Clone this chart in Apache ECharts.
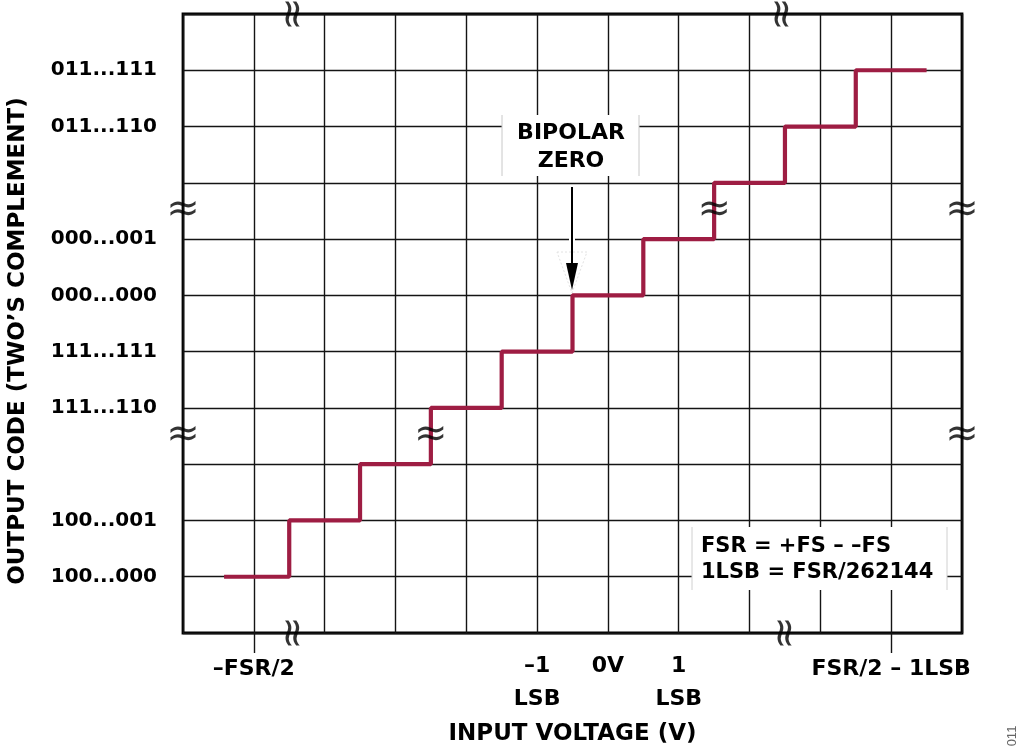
<!DOCTYPE html>
<html>
<head>
<meta charset="utf-8">
<script src="https://cdn.jsdelivr.net/npm/echarts@6/dist/echarts.min.js"></script>
<style>
html,body{margin:0;padding:0;background:#fff;}
#chart{width:1024px;height:756px;}
</style>
</head>
<body>
<div id="chart"></div>
<script>
// ---- data ----
const stepX    = [0.58, 1, 2, 3, 4, 5, 6, 7, 8, 9, 10, 10.5];
const stepCode = [1, 1, 2, 3, 4, 5, 6, 7, 8, 9, 10, 10];
const yTickValues = [1, 2, 4, 5, 6, 7, 9, 10];
const yTickLabels = ['100...000', '100...001', '111...110', '111...111', '000...000', '000...001', '011...110', '011...111'];
const xTickValues = [1, 5, 6, 7, 10];
const xTickLabels = ['–FSR/2', '–1\nLSB', '0V', '1\nLSB', 'FSR/2 – 1LSB'];
const xMarkValues = [1, 10];
const breakOnXAxes = [[1.57, 11], [8.48, 11], [1.57, 0], [8.52, 0]];
const breakOnYAxes = [[0, 7.5], [0, 3.5], [11, 7.5], [11, 3.5], [7.5, 7.5], [3.5, 3.5]];

const FONT = '"DejaVu Sans", "Liberation Sans", Arial, sans-serif';
const LINECOLOR = '#9e1d43';
const GRIDCOLOR = '#141414';

const chart = echarts.init(document.getElementById('chart'));
const breakLabel = { show: true, position: 'inside', formatter: '≈', fontFamily: 'DejaVu Sans', fontSize: 40, fontWeight: 'normal', color: '#000' };
const option = {
  animation: false,
  backgroundColor: '#fff',
  grid: { left: 183, right: 62, top: 14, bottom: 123, show: true, borderColor: '#000', borderWidth: 2.8, backgroundColor: 'transparent' },
  xAxis: [
    {
      type: 'value', min: 0, max: 11, interval: 1,
      name: 'INPUT VOLTAGE (V)', nameLocation: 'middle', nameGap: 90,
      nameTextStyle: { fontFamily: FONT, fontSize: 23, fontWeight: 'bold', color: '#000' },
      axisLine: { show: false },
      axisTick: { show: false },
      splitLine: { show: true, lineStyle: { color: GRIDCOLOR, width: 1.4 } },
      axisLabel: {
        show: true, customValues: xTickValues, margin: 17,
        fontFamily: FONT, fontSize: 22, fontWeight: 'bold', color: '#000', lineHeight: 33,
        formatter: function (v) {
          const i = xTickValues.indexOf(v);
          if (i < 0) return '';
          const t = xTickLabels[i];
          return t.indexOf('\n') >= 0 || t === '0V' ? t : '{s|' + t + '}';
        },
        rich: { s: { fontFamily: FONT, fontSize: 22, fontWeight: 'bold', color: '#000', lineHeight: 33, padding: [6, 0, 0, 0] } }
      }
    },
    {
      type: 'value', min: 0, max: 11, position: 'bottom',
      axisLine: { show: false },
      splitLine: { show: false },
      axisLabel: { show: false },
      axisTick: { show: true, customValues: xMarkValues, length: 20, lineStyle: { color: GRIDCOLOR, width: 1.4 } }
    }
  ],
  yAxis: {
    type: 'value', min: 0, max: 11, interval: 1,
    axisLine: { show: false },
    axisTick: { show: false },
    splitLine: { show: true, lineStyle: { color: GRIDCOLOR, width: 1.4 } },
    axisLabel: {
      show: true, customValues: yTickValues, margin: 26,
      fontFamily: FONT, fontSize: 20, fontWeight: 'bold', color: '#000',
      formatter: function (v) {
        const i = yTickValues.indexOf(v);
        return i < 0 ? '' : yTickLabels[i];
      }
    }
  },
  series: [
    {
      type: 'line', step: 'middle', showSymbol: false, symbol: 'none',
      data: stepX.map((x, i) => [x, stepCode[i]]),
      lineStyle: { color: LINECOLOR, width: 4.2 }, z: 3
    },
    {
      type: 'scatter', symbolSize: 1, itemStyle: { color: 'rgba(0,0,0,0)' }, silent: true, z: 5,
      data: breakOnXAxes,
      label: Object.assign({}, breakLabel, { rotate: 90 })
    },
    {
      type: 'scatter', symbolSize: 1, itemStyle: { color: 'rgba(0,0,0,0)' }, silent: true, z: 5,
      data: breakOnYAxes,
      label: breakLabel
    }
  ],
  graphic: [
    // y axis title
    { type: 'text', z: 12, x: 18, y: 341, rotation: Math.PI / 2, style: { text: 'OUTPUT CODE (TWO’S COMPLEMENT)', fontFamily: FONT, fontSize: 23, fontWeight: 'bold', fill: '#000', align: 'center', verticalAlign: 'middle' } },
    // BIPOLAR ZERO box
    { type: 'rect', z: 10, shape: { x: 502, y: 115, width: 137, height: 61 }, style: { fill: '#fff' } },
    { type: 'line', z: 11, shape: { x1: 502, y1: 115, x2: 502, y2: 176 }, style: { stroke: '#c8c8c8', lineWidth: 1 } },
    { type: 'line', z: 11, shape: { x1: 639, y1: 115, x2: 639, y2: 176 }, style: { stroke: '#c8c8c8', lineWidth: 1 } },
    { type: 'text', z: 12, x: 571, y: 133, style: { text: 'BIPOLAR', fontFamily: FONT, fontSize: 22, fontWeight: 'bold', fill: '#000', align: 'center', verticalAlign: 'middle' } },
    { type: 'text', z: 12, x: 571, y: 161, style: { text: 'ZERO', fontFamily: FONT, fontSize: 22, fontWeight: 'bold', fill: '#000', align: 'center', verticalAlign: 'middle' } },
    // arrow
    { type: 'line', z: 10, shape: { x1: 572, y1: 186, x2: 572, y2: 262 }, style: { stroke: '#fff', lineWidth: 6 } },
    { type: 'polygon', z: 10, shape: { points: [[557, 252], [587, 252], [572, 293]] }, style: { fill: '#fff', stroke: '#e2e2e2', lineWidth: 1, lineDash: [2, 2] } },
    { type: 'line', z: 11, shape: { x1: 572, y1: 187, x2: 572, y2: 266 }, style: { stroke: '#000', lineWidth: 2 } },
    { type: 'polygon', z: 11, shape: { points: [[566, 263], [578, 263], [572, 290]] }, style: { fill: '#000' } },
    // formula box
    { type: 'rect', z: 10, shape: { x: 692, y: 527, width: 255, height: 63 }, style: { fill: '#fff' } },
    { type: 'line', z: 11, shape: { x1: 692, y1: 527, x2: 692, y2: 590 }, style: { stroke: '#d0d0d0', lineWidth: 1 } },
    { type: 'line', z: 11, shape: { x1: 947, y1: 527, x2: 947, y2: 590 }, style: { stroke: '#d0d0d0', lineWidth: 1 } },
    { type: 'text', z: 12, x: 701, y: 547, style: { text: 'FSR = +FS – –FS', fontFamily: FONT, fontSize: 21, fontWeight: 'bold', fill: '#000', align: 'left', verticalAlign: 'middle' } },
    { type: 'text', z: 12, x: 701, y: 573, style: { text: '1LSB = FSR/262144', fontFamily: FONT, fontSize: 21, fontWeight: 'bold', fill: '#000', align: 'left', verticalAlign: 'middle' } },
    // figure number
    { type: 'text', z: 12, x: 1012, y: 736, rotation: Math.PI / 2, style: { text: '011', fontFamily: '"Liberation Sans", Arial, sans-serif', fontSize: 13, fill: '#666', align: 'center', verticalAlign: 'middle' } }
  ]
};
chart.setOption(option);
</script>
</body>
</html>
